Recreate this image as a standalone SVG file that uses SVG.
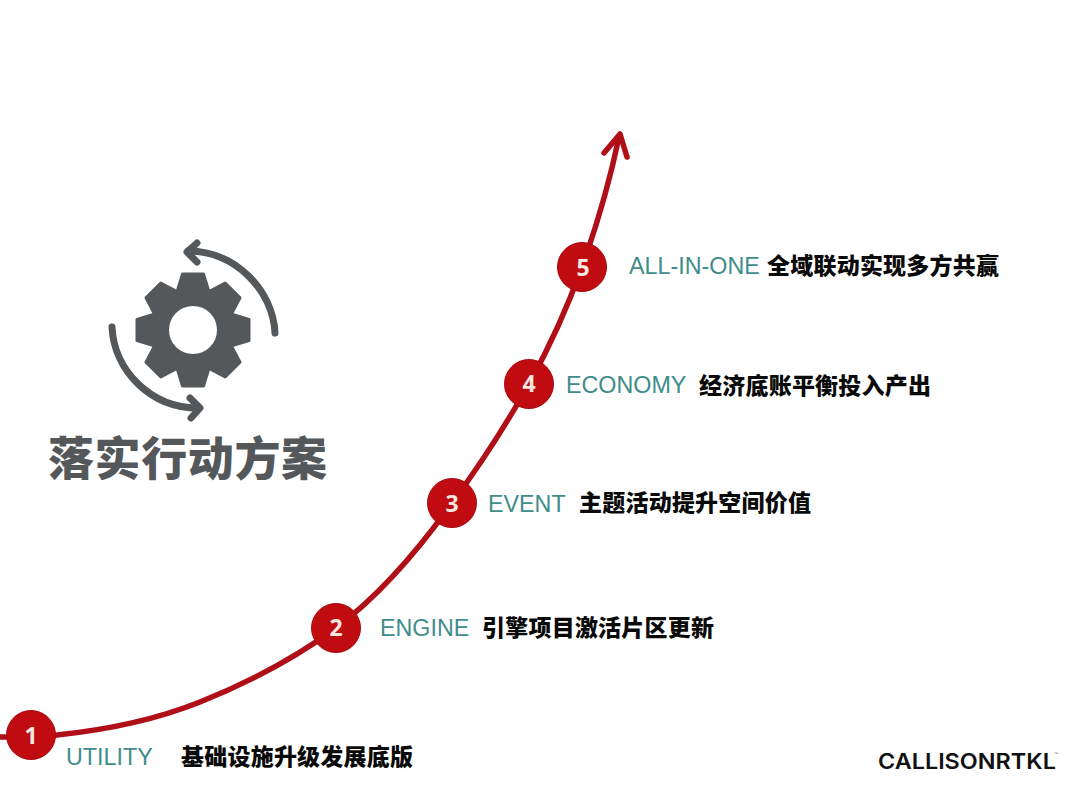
<svg xmlns="http://www.w3.org/2000/svg" width="1080" height="792" viewBox="0 0 1080 792">
<style>
.en{font:23.3px "Liberation Sans",Arial,sans-serif;fill:#3f8d8b}
.zh{font:900 23px "Noto Sans CJK SC",sans-serif;fill:#0a0a0a}
.num{font:700 23px "Open Sans","Liberation Sans",sans-serif;fill:#f6e6e2;text-anchor:middle}
.dot{fill:#c00b11;stroke:#a80a10;stroke-width:1}
.curve{fill:none;stroke:#b00f17;stroke-width:5.5;stroke-linecap:round;stroke-linejoin:round}
.ic{fill:none;stroke:#55585b;stroke-width:7;stroke-linecap:round;stroke-linejoin:round}
</style>
<defs>
<polygon id="tooth" points="-16,-38 -10.5,-56 10.5,-56 16,-38" fill="#55585b" stroke="#55585b" stroke-width="3" stroke-linejoin="round"/>
</defs>
<rect width="1080" height="792" fill="#fff"/>
<g id="connectors">
<path class="curve" d="M0,737 L31,737 L57,735 C105,730 155,720 200,702 C250,682 295,658 336,628 C380,595 417,552 452,503 C480,465 506,425 529,384 C550,346 568,306 582,267 C597,225 610,180 619,137"/>
<path class="curve" d="M604,153 L620,134 L627,157"/>
</g>
<g id="icon">
<circle cx="193" cy="330" r="42" fill="#55585b"/>
<g transform="translate(193 330)">
<use href="#tooth"/>
<use href="#tooth" transform="rotate(45)"/>
<use href="#tooth" transform="rotate(90)"/>
<use href="#tooth" transform="rotate(135)"/>
<use href="#tooth" transform="rotate(180)"/>
<use href="#tooth" transform="rotate(225)"/>
<use href="#tooth" transform="rotate(270)"/>
<use href="#tooth" transform="rotate(315)"/>
</g>
<circle cx="193" cy="330" r="24" fill="#fff"/>
<path class="ic" d="M275,333 C273,290 235,251 188,251"/>
<path class="ic" d="M197,243 L187,252 L197,262"/>
<path class="ic" d="M112,327 C114,370 150,408 198,408"/>
<path class="ic" d="M190,398 L200,408 L191,418"/>
</g>
<g id="title"><text x="48" y="475" style="font:900 46px 'Noto Sans CJK SC',sans-serif;fill:#55585b" textLength="279">落实行动方案</text></g>
<g id="node1"><circle class="dot" cx="31" cy="735" r="24.5"/><text class="num" x="31" y="744">1</text>
<text class="en" x="66" y="765">UTILITY</text><text class="zh" x="181" y="765" textLength="232">基础设施升级发展底版</text></g>
<g id="node2"><circle class="dot" cx="336" cy="628" r="24.5"/><text class="num" x="336" y="636">2</text>
<text class="en" x="380" y="636">ENGINE</text><text class="zh" x="482" y="636" textLength="232">引擎项目激活片区更新</text></g>
<g id="node3"><circle class="dot" cx="452" cy="503" r="24.5"/><text class="num" x="452" y="512">3</text>
<text class="en" x="488" y="512">EVENT</text><text class="zh" x="579" y="511" textLength="232">主题活动提升空间价值</text></g>
<g id="node4"><circle class="dot" cx="529" cy="384" r="24.5"/><text class="num" x="529" y="392">4</text>
<text class="en" x="566" y="393">ECONOMY</text><text class="zh" x="699" y="394" textLength="232">经济底账平衡投入产出</text></g>
<g id="node5"><circle class="dot" cx="582" cy="267" r="24.5"/><text class="num" x="583" y="276">5</text>
<text class="en" x="629" y="274">ALL-IN-ONE</text><text class="zh" x="767" y="274" textLength="232">全域联动实现多方共赢</text></g>
<g id="logo"><text x="878" y="769" textLength="178" lengthAdjust="spacingAndGlyphs" style="font:600 21.5px Inter,'Liberation Sans',sans-serif;fill:#111">CALLISONRTKL</text><text x="1054" y="755" style="font:4px 'Liberation Sans',sans-serif;fill:#555">™</text></g>
</svg>
